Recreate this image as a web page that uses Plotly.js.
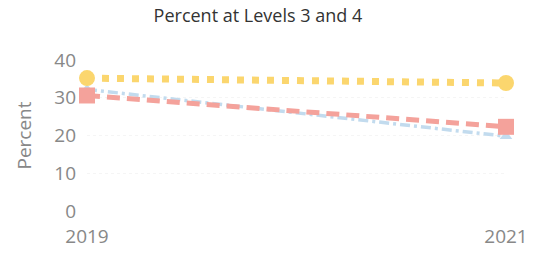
<!DOCTYPE html>
<html><head><meta charset="utf-8">
<script src="https://cdn.plot.ly/plotly-3.0.1.min.js"></script>
<style>body{margin:0;padding:0;background:#fff}#c{width:543px;height:255px}</style>
</head><body><div id="c"></div>
<script>
const years = [2019, 2021];
const seriesYellow = [35.2, 33.9];
const seriesRed = [30.6, 22.3];
const seriesBlue = [32.2, 19.8];
const tickLabels = ['2019', '2021'];

const traces = [
  {x: years, y: seriesBlue, mode: 'lines+markers', cliponaxis: false,
   line: {color: '#c2dbee', width: 3.5, dash: '10px,4px,3px,4px'},
   marker: {symbol: 'triangle-up', size: 11, color: '#c2dbee'}},
  {x: years, y: seriesRed, mode: 'lines+markers', cliponaxis: false,
   line: {color: '#f4a29b', width: 5, dash: '13px,7px'},
   marker: {symbol: 'square', size: 16, color: '#f4a29b'}},
  {x: years, y: seriesYellow, mode: 'lines+markers', cliponaxis: false,
   line: {color: '#fbd66e', width: 7, dash: '7px,8px'},
   marker: {symbol: 'circle', size: 16, color: '#fbd66e'}}
];
const layout = {
  width: 543, height: 255, showlegend: false,
  paper_bgcolor: '#fff', plot_bgcolor: '#fff',
  margin: {l: 87, r: 37, t: 60, b: 44},
  font: {family: 'Open Sans, Noto Sans, sans-serif', color: '#888'},
  title: {text: 'Percent at Levels 3 and 4', x: 0.475, xanchor: 'center', y: 0.965, yanchor: 'top',
          font: {size: 18, color: '#333'}},
  xaxis: {range: [2019, 2021], tickvals: years, ticktext: tickLabels, showgrid: false,
          zeroline: false, showline: false, ticks: '', ticklabelstandoff: 12,
          tickfont: {size: 19, color: '#888'}},
  yaxis: {range: [0, 40], tickvals: [0, 10, 20, 30, 40], showgrid: true, gridcolor: '#f5f5f5',
          griddash: 'dot', zeroline: false, showline: false, ticks: '', ticklabelstandoff: 10,
          tickfont: {size: 19, color: '#888'},
          title: {text: 'Percent', standoff: 17, font: {size: 19, color: '#888'}}}
};
Plotly.newPlot('c', traces, layout, {staticPlot: true, displayModeBar: false});
</script></body></html>
